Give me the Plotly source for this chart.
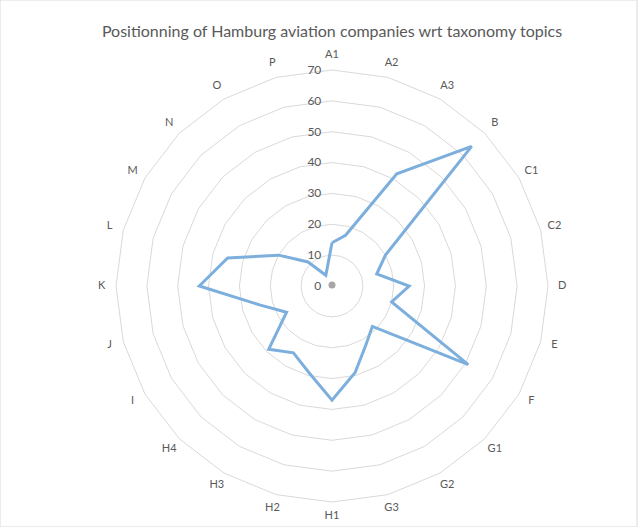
import plotly.graph_objects as go

# Taxonomy topics (clockwise from the top) and company counts per topic
topics = ["A1", "A2", "A3", "B", "C1", "C2", "D", "E", "F", "G1", "G2", "G3",
          "H1", "H2", "H3", "H4", "I", "J", "K", "L", "M", "N", "O", "P"]
counts = [14, 17, 42, 64, 20, 15, 25, 20, 51, 18.5, 22, 29,
          37, 29, 25, 29, 17, 24, 43, 35, 20, 11, 4, 6]

radial_ticks = [0, 10, 20, 30, 40, 50, 60, 70]

W, H = 641, 527
cx, cy, R = 332, 286, 216   # centre and radius of the 70 ring, in px
r_max = radial_ticks[-1]
label_r = r_max * 1.066     # category names sit just outside the outer ring
r_outer = r_max * 1.09      # polar area is a little larger to hold the names
R_dom = R * r_outer / r_max

grey_text = "#595959"
grid = "#D9D9D9"
font_family = "Lato, 'Open Sans', sans-serif"

fig = go.Figure()

# closed outline of the series
fig.add_trace(go.Scatterpolar(
    r=counts + counts[:1],
    theta=topics + topics[:1],
    mode="lines",
    line=dict(color="#7DAFDD", width=3),
    hoverinfo="skip",
    showlegend=False,
))

# the collapsed zero ring at the centre
fig.add_trace(go.Scatterpolar(
    r=[0.3],
    theta=[topics[0]],
    mode="markers",
    marker=dict(color="#A6A6A6", size=7),
    cliponaxis=False,
    hoverinfo="skip",
    showlegend=False,
))

# category names, centred on their spokes
fig.add_trace(go.Scatterpolar(
    r=[label_r] * len(topics),
    theta=topics,
    mode="text",
    text=topics,
    textposition="middle center",
    textfont=dict(family=font_family, size=11, color=grey_text),
    cliponaxis=False,
    hoverinfo="skip",
    showlegend=False,
))

fig.update_layout(
    width=W,
    height=H,
    margin=dict(l=0, r=0, t=0, b=0),
    paper_bgcolor="white",
    plot_bgcolor="white",
    font=dict(family=font_family, color=grey_text, size=11),
    title=dict(
        text="Positionning of Hamburg aviation companies wrt taxonomy topics",
        x=332 / W, xanchor="center",
        y=1 - 31 / H, yanchor="middle",
        font=dict(family=font_family, size=16, color=grey_text),
    ),
    polar=dict(
        domain=dict(x=[(cx - R_dom) / W, (cx + R_dom) / W],
                    y=[1 - (cy + R_dom) / H, 1 - (cy - R_dom) / H]),
        bgcolor="white",
        gridshape="linear",
        radialaxis=dict(
            range=[0, r_outer],
            tickvals=radial_ticks,
            ticktext=[str(v) for v in radial_ticks],
            angle=90,
            tickangle=90,
            side="counterclockwise",
            showline=False,
            ticks="outside",
            ticklen=6,
            tickcolor="rgba(0,0,0,0)",
            showgrid=True,
            gridcolor=grid,
            gridwidth=1,
            tickfont=dict(size=12, color=grey_text),
        ),
        angularaxis=dict(
            categoryorder="array",
            categoryarray=topics,
            direction="clockwise",
            rotation=90,
            showgrid=False,
            showline=False,
            ticks="",
            showticklabels=False,
        ),
    ),
    shapes=[dict(
        type="rect", xref="paper", yref="paper",
        x0=0, x1=637 / W, y0=0, y1=1,
        line=dict(color=grid, width=1),
    )],
)

fig.write_html("out.html")
